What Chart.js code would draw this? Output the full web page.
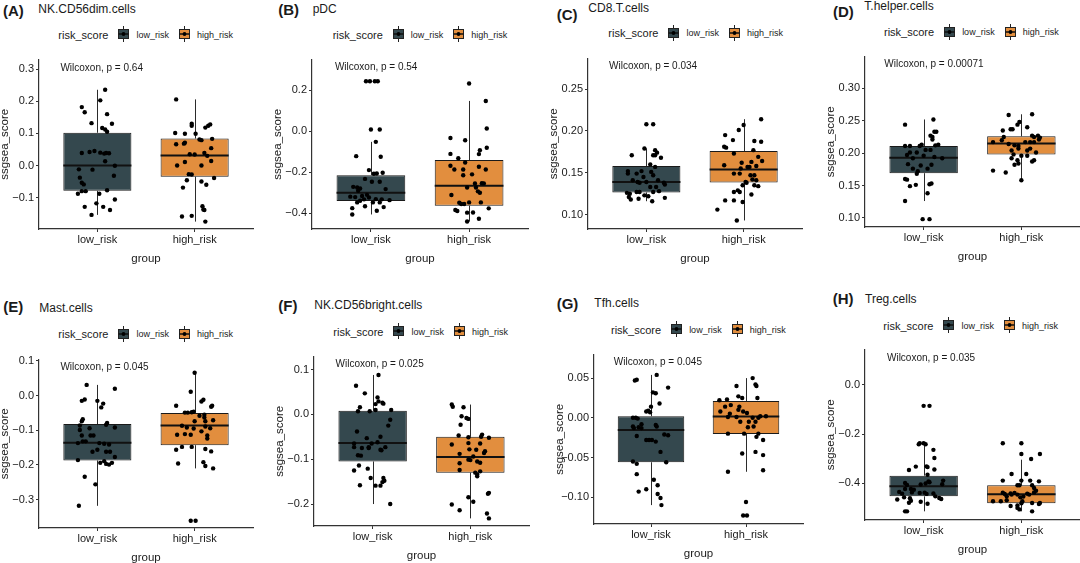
<!DOCTYPE html>
<html><head><meta charset="utf-8">
<script src="https://cdn.jsdelivr.net/npm/chart.js@4/dist/chart.umd.min.js"></script>
<style>
html,body{margin:0;padding:0;}
body{width:1080px;height:563px;overflow:hidden;background:#fff;position:relative;font-family:"Liberation Sans",Arial,sans-serif;color:#1a1a1a;}
.tag{position:absolute;font-weight:bold;font-size:15px;line-height:18px;transform:translateY(-50%);white-space:nowrap;}
.name{position:absolute;font-size:12px;line-height:14px;transform:translateY(-50%);white-space:nowrap;}
.leg{position:absolute;display:flex;align-items:center;transform:translateY(-50%);white-space:nowrap;height:17px;}
.leg .t{font-size:11px;margin-right:7px;}
.leg .k{font-size:9px;margin-left:4px;margin-right:7px;}
.leg svg{display:block;}
canvas{position:absolute;}
</style></head>
<body>
<script>
// ---------- DATA ----------
const categories = ['low_risk', 'high_risk'];
const panelTags = ['(A)', '(B)', '(C)', '(D)', '(E)', '(F)', '(G)', '(H)'];
const cellTypes = ['NK.CD56dim.cells', 'pDC', 'CD8.T.cells', 'T.helper.cells', 'Mast.cells', 'NK.CD56bright.cells', 'Tfh.cells', 'Treg.cells'];
const pValues = ['0.64', '0.54', '0.034', '0.00071', '0.045', '0.025', '0.045', '0.035'];

// box stats: [lower whisker, Q1, median, Q3, upper whisker]
const boxA_low = [-0.154, -0.079, 0.000, 0.102, 0.236];
const boxA_high = [-0.175, -0.035, 0.031, 0.084, 0.206];
const boxB_low = [-0.407, -0.341, -0.301, -0.215, -0.052];
const boxB_high = [-0.441, -0.364, -0.267, -0.141, 0.148];
const boxC_low = [0.116, 0.1265, 0.139, 0.158, 0.179];
const boxC_high = [0.093, 0.1385, 0.154, 0.176, 0.214];
const boxD_low = [0.126, 0.169, 0.193, 0.211, 0.252];
const boxD_high = [0.158, 0.198, 0.215, 0.226, 0.260];
const boxE_low = [-0.318, -0.187, -0.136, -0.082, 0.031];
const boxE_high = [-0.210, -0.143, -0.086, -0.050, 0.066];
const boxF_low = [-0.200, -0.105, -0.064, 0.008, 0.088];
const boxF_high = [-0.232, -0.130, -0.095, -0.050, 0.022];
const boxG_low = [-0.110, -0.056, -0.0154, 0.002, 0.054];
const boxG_high = [-0.068, -0.0204, 0.0017, 0.0212, 0.050];
const boxH_low = [-0.514, -0.453, -0.412, -0.369, -0.241];
const boxH_high = [-0.514, -0.481, -0.445, -0.408, -0.304];

// points: [jitter offset (category units), ssgsea_score]
const ptsA_low = [[0.08,0.236],[0.03,0.203],[-0.16,0.182],[-0.13,0.166],[0.10,0.160],[-0.06,0.132],[0.15,0.130],[0.05,0.117],[0.08,0.112],[0.10,0.105],[-0.16,0.039],[-0.08,0.042],[-0.03,0.045],[0.03,0.040],[0.07,0.037],[0.09,0.039],[0.12,0.038],[0.08,0.013],[-0.05,-0.013],[0.18,-0.001],[0.17,-0.032],[-0.19,-0.012],[-0.18,-0.038],[-0.16,-0.054],[-0.14,-0.059],[-0.16,-0.080],[-0.12,-0.080],[-0.20,-0.088],[0.02,-0.088],[0.10,-0.077],[0.18,-0.106],[-0.13,-0.129],[-0.01,-0.118],[0.06,-0.129],[0.13,-0.139],[-0.06,-0.154]];
const ptsA_high = [[-0.19,0.206],[-0.03,0.130],[-0.03,0.124],[0.16,0.128],[0.14,0.124],[0.11,0.118],[-0.20,0.101],[-0.10,0.099],[0.01,0.099],[0.05,0.081],[0.07,0.079],[0.18,0.083],[-0.19,0.066],[-0.10,0.071],[-0.11,0.068],[0.17,0.054],[-0.05,0.035],[0.00,0.034],[0.10,0.039],[0.13,0.030],[0.17,0.014],[-0.10,0.011],[-0.18,0.000],[0.07,0.000],[0.20,-0.039],[-0.06,-0.027],[-0.03,-0.028],[-0.08,-0.046],[0.12,-0.060],[0.07,-0.050],[-0.12,-0.069],[0.08,-0.127],[0.09,-0.137],[0.10,-0.139],[-0.13,-0.159],[-0.03,-0.157],[0.11,-0.175]];
const ptsB_low = [[-0.05,0.244],[-0.01,0.244],[0.04,0.244],[0.07,0.244],[0.00,0.008],[0.09,0.008],[0.05,-0.052],[-0.15,-0.122],[0.10,-0.125],[-0.02,-0.190],[0.03,-0.208],[0.06,-0.207],[0.12,-0.203],[0.09,-0.247],[0.01,-0.247],[-0.06,-0.233],[0.15,-0.283],[-0.18,-0.272],[-0.14,-0.275],[-0.11,-0.280],[-0.13,-0.291],[-0.21,-0.320],[-0.16,-0.322],[-0.09,-0.317],[-0.04,-0.311],[-0.11,-0.340],[-0.07,-0.333],[-0.02,-0.324],[0.05,-0.332],[0.11,-0.333],[0.19,-0.337],[-0.14,-0.348],[0.02,-0.348],[0.09,-0.348],[-0.19,-0.376],[-0.06,-0.367],[0.13,-0.371],[0.06,-0.389],[-0.19,-0.407]];
const ptsB_high = [[0.00,0.233],[0.17,0.148],[0.18,0.013],[-0.19,-0.033],[-0.04,-0.044],[0.18,-0.081],[0.11,-0.093],[0.10,-0.112],[-0.19,-0.111],[-0.11,-0.132],[-0.04,-0.153],[-0.19,-0.169],[0.10,-0.174],[-0.15,-0.187],[-0.06,-0.187],[0.17,-0.187],[0.03,-0.211],[-0.06,-0.215],[0.06,-0.255],[0.13,-0.254],[-0.02,-0.275],[0.07,-0.275],[0.15,-0.255],[0.09,-0.294],[0.11,-0.301],[-0.18,-0.312],[-0.10,-0.350],[-0.08,-0.356],[-0.05,-0.356],[0.00,-0.348],[0.12,-0.348],[-0.14,-0.385],[-0.12,-0.390],[-0.02,-0.398],[0.04,-0.397],[0.20,-0.377],[0.10,-0.428],[-0.02,-0.441]];
const ptsC_low = [[0.00,0.208],[0.07,0.208],[-0.15,0.171],[-0.02,0.179],[0.09,0.177],[0.11,0.174],[0.07,0.171],[0.09,0.171],[0.15,0.168],[0.04,0.160],[0.09,0.157],[-0.19,0.152],[-0.05,0.152],[-0.19,0.149],[-0.10,0.149],[0.05,0.151],[0.07,0.147],[-0.14,0.141],[-0.09,0.139],[-0.03,0.145],[0.00,0.139],[-0.07,0.138],[0.12,0.141],[0.18,0.138],[0.19,0.136],[0.10,0.133],[0.04,0.133],[0.07,0.127],[0.13,0.128],[-0.20,0.126],[-0.17,0.125],[-0.10,0.127],[-0.07,0.127],[-0.02,0.123],[0.02,0.122],[-0.18,0.121],[-0.16,0.118],[-0.08,0.119],[0.19,0.120],[0.06,0.116]];
const ptsC_high = [[0.18,0.214],[0.00,0.207],[-0.05,0.201],[-0.19,0.195],[-0.11,0.189],[-0.20,0.181],[0.11,0.188],[0.18,0.187],[0.10,0.177],[-0.18,0.180],[-0.10,0.173],[-0.02,0.162],[0.08,0.163],[0.15,0.169],[0.19,0.164],[-0.20,0.159],[-0.03,0.155],[0.06,0.157],[0.04,0.157],[0.13,0.158],[-0.10,0.149],[-0.04,0.149],[0.07,0.147],[0.11,0.147],[0.09,0.142],[0.13,0.141],[0.02,0.139],[0.03,0.138],[0.15,0.134],[-0.01,0.135],[0.11,0.135],[-0.06,0.129],[-0.04,0.127],[0.08,0.124],[-0.10,0.127],[-0.19,0.117],[-0.10,0.117],[-0.01,0.115],[-0.27,0.106],[-0.07,0.093]];
const ptsD_low = [[0.10,0.252],[-0.19,0.244],[0.11,0.233],[0.13,0.233],[0.07,0.227],[0.09,0.225],[0.09,0.221],[-0.19,0.211],[-0.14,0.211],[-0.04,0.211],[-0.02,0.213],[0.12,0.212],[0.15,0.213],[-0.14,0.201],[0.02,0.205],[0.07,0.205],[-0.07,0.201],[-0.17,0.197],[0.00,0.196],[-0.11,0.192],[0.11,0.194],[0.19,0.192],[-0.16,0.183],[-0.03,0.181],[0.08,0.182],[-0.11,0.176],[-0.06,0.172],[0.04,0.176],[-0.07,0.168],[-0.19,0.160],[-0.17,0.159],[-0.14,0.149],[-0.08,0.151],[0.06,0.152],[0.08,0.153],[0.04,0.138],[-0.19,0.126],[-0.01,0.098],[0.06,0.098]];
const ptsD_high = [[-0.13,0.259],[0.11,0.260],[-0.02,0.248],[-0.04,0.244],[0.06,0.240],[-0.19,0.235],[-0.11,0.237],[-0.09,0.237],[-0.18,0.225],[-0.20,0.220],[0.11,0.227],[0.13,0.225],[0.17,0.227],[0.18,0.221],[0.19,0.224],[-0.29,0.217],[-0.13,0.214],[-0.07,0.212],[-0.03,0.211],[0.09,0.217],[0.13,0.217],[0.04,0.217],[-0.10,0.204],[-0.03,0.207],[0.09,0.207],[0.06,0.204],[-0.08,0.198],[0.00,0.196],[0.15,0.201],[0.06,0.196],[-0.10,0.192],[0.11,0.187],[0.13,0.189],[-0.04,0.189],[-0.03,0.184],[-0.07,0.182],[-0.29,0.173],[-0.16,0.170],[0.00,0.158]];
const ptsE_low = [[-0.11,0.031],[0.18,0.020],[-0.16,-0.015],[-0.13,-0.011],[0.00,-0.015],[0.06,-0.023],[0.04,-0.034],[-0.15,-0.068],[-0.16,-0.074],[-0.18,-0.086],[0.10,-0.079],[0.09,-0.084],[-0.18,-0.099],[-0.08,-0.094],[-0.07,-0.115],[-0.04,-0.115],[0.18,-0.092],[-0.16,-0.115],[-0.15,-0.132],[-0.12,-0.132],[-0.20,-0.137],[0.02,-0.137],[0.07,-0.139],[0.12,-0.141],[-0.05,-0.162],[0.00,-0.156],[0.09,-0.162],[0.13,-0.162],[0.18,-0.177],[-0.20,-0.186],[0.07,-0.189],[0.09,-0.197],[0.12,-0.199],[0.15,-0.194],[0.03,-0.194],[-0.13,-0.234],[-0.02,-0.256],[-0.19,-0.318]];
const ptsE_high = [[0.00,0.066],[-0.04,0.011],[-0.19,-0.029],[0.07,-0.017],[0.09,-0.012],[0.17,-0.032],[0.18,-0.029],[-0.10,-0.049],[-0.07,-0.049],[-0.03,-0.048],[-0.01,-0.046],[0.05,-0.058],[0.10,-0.055],[-0.13,-0.087],[-0.08,-0.092],[0.00,-0.074],[0.10,-0.063],[0.11,-0.089],[0.19,-0.071],[0.16,-0.094],[0.11,-0.074],[-0.18,-0.113],[-0.10,-0.111],[-0.04,-0.113],[0.07,-0.103],[0.13,-0.115],[-0.01,-0.095],[0.13,-0.124],[-0.13,-0.148],[-0.03,-0.148],[-0.19,-0.156],[0.11,-0.154],[0.17,-0.161],[-0.17,-0.196],[0.09,-0.192],[0.11,-0.203],[0.19,-0.210],[-0.04,-0.361],[0.01,-0.361]];
const ptsF_low = [[0.06,0.088],[-0.17,0.064],[-0.08,0.047],[0.05,0.038],[0.06,0.029],[0.03,0.023],[0.10,0.026],[0.11,0.024],[-0.13,0.016],[-0.15,0.007],[-0.03,0.007],[0.03,0.010],[0.19,0.010],[0.18,-0.012],[0.16,-0.025],[-0.16,-0.038],[-0.06,-0.053],[0.08,-0.050],[-0.19,-0.065],[-0.19,-0.073],[-0.01,-0.065],[0.05,-0.062],[0.13,-0.073],[0.08,-0.079],[0.09,-0.080],[-0.11,-0.075],[-0.04,-0.075],[-0.15,-0.091],[-0.12,-0.092],[-0.04,-0.073],[-0.14,-0.114],[-0.19,-0.125],[-0.05,-0.121],[-0.02,-0.142],[0.11,-0.142],[0.12,-0.148],[0.10,-0.151],[-0.13,-0.158],[0.03,-0.159],[0.08,-0.159],[0.18,-0.200]];
const ptsF_high = [[-0.19,0.022],[-0.18,0.017],[-0.07,0.016],[-0.09,-0.004],[-0.04,-0.008],[-0.02,-0.010],[-0.10,-0.023],[-0.12,-0.047],[-0.02,-0.051],[0.12,-0.045],[0.11,-0.050],[0.19,-0.052],[-0.19,-0.067],[-0.02,-0.064],[0.10,-0.065],[0.15,-0.082],[0.14,-0.086],[-0.01,-0.078],[0.06,-0.079],[-0.11,-0.088],[0.03,-0.094],[-0.02,-0.101],[0.00,-0.102],[-0.11,-0.109],[0.07,-0.105],[0.10,-0.108],[-0.11,-0.124],[0.05,-0.130],[0.07,-0.134],[0.07,-0.138],[0.10,-0.127],[-0.02,-0.185],[0.19,-0.175],[0.18,-0.177],[0.03,-0.195],[-0.19,-0.201],[-0.11,-0.214],[0.17,-0.221],[0.19,-0.232]];
const ptsG_low = [[0.06,0.054],[-0.17,0.047],[-0.15,0.048],[0.18,0.038],[0.02,0.032],[0.05,0.031],[0.09,0.018],[0.00,0.014],[-0.05,0.008],[-0.03,0.009],[-0.01,0.007],[-0.19,0.000],[-0.16,0.000],[-0.14,-0.001],[-0.10,-0.008],[0.05,-0.009],[0.06,-0.011],[-0.19,-0.011],[-0.13,-0.012],[-0.10,-0.013],[-0.18,-0.013],[0.14,-0.021],[0.18,-0.022],[-0.15,-0.023],[-0.05,-0.028],[-0.02,-0.028],[0.01,-0.028],[0.05,-0.030],[0.10,-0.043],[-0.19,-0.055],[-0.15,-0.058],[0.16,-0.056],[-0.15,-0.071],[0.03,-0.078],[0.07,-0.085],[-0.05,-0.090],[-0.13,-0.093],[0.07,-0.096],[0.10,-0.101],[0.11,-0.110]];
const ptsG_high = [[0.07,0.050],[-0.10,0.040],[0.10,0.042],[0.11,0.040],[-0.08,0.027],[-0.04,0.025],[0.12,0.025],[-0.28,0.022],[-0.20,0.023],[-0.16,0.016],[-0.07,0.014],[-0.22,0.014],[-0.08,0.010],[-0.03,0.008],[0.01,0.006],[-0.27,0.008],[-0.17,0.005],[-0.19,0.001],[-0.10,0.001],[0.07,0.000],[0.13,0.000],[0.21,0.002],[0.15,0.002],[-0.06,-0.005],[0.03,-0.005],[0.10,-0.005],[0.02,-0.012],[0.08,-0.011],[-0.19,-0.020],[-0.02,-0.020],[0.13,-0.020],[0.11,-0.024],[0.18,-0.028],[0.10,-0.043],[-0.04,-0.045],[0.18,-0.047],[0.18,-0.066],[-0.19,-0.068],[0.00,-0.106],[-0.03,-0.123],[0.01,-0.123]];
const ptsH_low = [[0.00,-0.085],[0.06,-0.085],[-0.05,-0.241],[-0.04,-0.237],[0.00,-0.237],[0.02,-0.241],[0.10,-0.264],[0.11,-0.297],[0.03,-0.331],[0.04,-0.334],[-0.08,-0.332],[-0.15,-0.346],[0.11,-0.344],[0.04,-0.365],[0.05,-0.392],[-0.19,-0.399],[-0.17,-0.407],[-0.03,-0.405],[0.02,-0.401],[0.06,-0.396],[0.20,-0.389],[0.19,-0.404],[-0.19,-0.423],[-0.13,-0.423],[-0.10,-0.426],[-0.25,-0.435],[-0.22,-0.442],[-0.12,-0.437],[-0.04,-0.439],[0.01,-0.438],[0.03,-0.443],[0.10,-0.441],[0.18,-0.464],[0.16,-0.460],[-0.14,-0.461],[-0.13,-0.471],[-0.20,-0.457],[-0.27,-0.466],[-0.15,-0.479],[-0.03,-0.475],[0.04,-0.483],[-0.19,-0.514],[-0.17,-0.514],[0.12,-0.453]];
const ptsH_high = [[-0.19,-0.237],[0.00,-0.237],[0.00,-0.281],[0.19,-0.281],[0.10,-0.301],[-0.10,-0.362],[0.05,-0.362],[-0.19,-0.389],[0.00,-0.389],[0.09,-0.389],[0.18,-0.392],[-0.04,-0.408],[-0.02,-0.408],[0.11,-0.408],[0.13,-0.419],[-0.19,-0.438],[-0.17,-0.443],[-0.11,-0.441],[-0.07,-0.439],[-0.04,-0.446],[0.06,-0.442],[0.08,-0.446],[0.13,-0.437],[0.15,-0.430],[-0.15,-0.453],[-0.10,-0.446],[-0.01,-0.457],[0.02,-0.454],[-0.15,-0.469],[0.01,-0.473],[0.11,-0.480],[0.18,-0.484],[0.19,-0.480],[-0.29,-0.473],[-0.21,-0.473],[-0.11,-0.492],[-0.04,-0.500],[-0.02,-0.506],[0.11,-0.514],[-0.04,-0.490],[0.00,-0.481]];

// y axis limits and tick labels
const yLimA = [-0.198, 0.330], ticksA = [-0.1, 0, 0.1, 0.2, 0.3], tickLabelsA = ['\u22120.1', '0.0', '0.1', '0.2', '0.3'];
const yLimB = [-0.478, 0.350], ticksB = [-0.4, -0.2, 0, 0.2], tickLabelsB = ['\u22120.4', '\u22120.2', '0.0', '0.2'];
const yLimC = [0.0828, 0.2864], ticksC = [0.10, 0.15, 0.20, 0.25], tickLabelsC = ['0.10', '0.15', '0.20', '0.25'];
const yLimD = [0.0859, 0.3491], ticksD = [0.10, 0.15, 0.20, 0.25, 0.30], tickLabelsD = ['0.10', '0.15', '0.20', '0.25', '0.30'];
const yLimE = [-0.382, 0.104], ticksE = [-0.3, -0.2, -0.1, 0, 0.1], tickLabelsE = ['\u22120.3', '\u22120.2', '\u22120.1', '0.0', '0.1'];
const yLimF = [-0.249, 0.129], ticksF = [-0.2, -0.1, 0, 0.1], tickLabelsF = ['\u22120.2', '\u22120.1', '0.0', '0.1'];
const yLimG = [-0.1338, 0.0796], ticksG = [-0.10, -0.05, 0, 0.05], tickLabelsG = ['\u22120.10', '\u22120.05', '0.00', '0.05'];
const yLimH = [-0.5492, 0.1437], ticksH = [-0.4, -0.2, 0], tickLabelsH = ['\u22120.4', '\u22120.2', '0.0'];

// Wilcoxon label anchor (x in category units, y in data units)
const labelAtA = [0.62, 0.303], labelAtB = [0.633, 0.314], labelAtC = [0.616, 0.277], labelAtD = [0.598, 0.338];
const labelAtE = [0.62, 0.081], labelAtF = [0.621, 0.113], labelAtG = [0.609, 0.070], labelAtH = [0.625, 0.108];

// ---------- STYLE / LAYOUT ----------
const LOW_COLOR = '#34484e', HIGH_COLOR = '#e28e3e';
const FONT = "'Liberation Sans', Arial, sans-serif";
Chart.defaults.font.family = FONT;
Chart.defaults.color = '#1a1a1a';

const panels = [
  {low: ptsA_low, high: ptsA_high, bl: boxA_low, bh: boxA_high, lim: yLimA, ticks: ticksA, tl: tickLabelsA, lab: labelAtA, L: 38.6, T: 59, R: 252.7, B: 229, tag: [3, 10.7], nm: [38.3, 9], lg: [58.3, 34.3]},
  {low: ptsB_low, high: ptsB_high, bl: boxB_low, bh: boxB_high, lim: yLimB, ticks: ticksB, tl: tickLabelsB, lab: labelAtB, L: 312.2, T: 59, R: 527.8, B: 229, tag: [278.3, 10], nm: [312.7, 8.7], lg: [332.7, 34]},
  {low: ptsC_low, high: ptsC_high, bl: boxC_low, bh: boxC_high, lim: yLimC, ticks: ticksC, tl: tickLabelsC, lab: labelAtC, L: 588.3, T: 58, R: 802.4, B: 229, tag: [556.7, 15], nm: [588.3, 7.5], lg: [608.3, 32.7]},
  {low: ptsD_low, high: ptsD_high, bl: boxD_low, bh: boxD_high, lim: yLimD, ticks: ticksD, tl: tickLabelsD, lab: labelAtD, L: 864.7, T: 56, R: 1079.6, B: 226.7, tag: [833, 11.7], nm: [864.3, 6], lg: [884, 31.7]},
  {low: ptsE_low, high: ptsE_high, bl: boxE_low, bh: boxE_high, lim: yLimE, ticks: ticksE, tl: tickLabelsE, lab: labelAtE, L: 38.6, T: 358.7, R: 252.7, B: 528.3, tag: [3.3, 307], nm: [39.3, 307.7], lg: [58.3, 333.7]},
  {low: ptsF_low, high: ptsF_high, bl: boxF_low, bh: boxF_high, lim: yLimF, ticks: ticksF, tl: tickLabelsF, lab: labelAtF, L: 314.1, T: 356, R: 528.8, B: 526, tag: [278.3, 306], nm: [314.3, 305], lg: [333.3, 331]},
  {low: ptsG_low, high: ptsG_high, bl: boxG_low, bh: boxG_high, lim: yLimG, ticks: ticksG, tl: tickLabelsG, lab: labelAtG, L: 594.2, T: 353.7, R: 802.6, B: 524.3, tag: [556.7, 304.3], nm: [594.3, 303.3], lg: [611, 329.3]},
  {low: ptsH_low, high: ptsH_high, bl: boxH_low, bh: boxH_high, lim: yLimH, ticks: ticksH, tl: tickLabelsH, lab: labelAtH, L: 864.7, T: 349.3, R: 1079.6, B: 519.7, tag: [832.7, 299.3], nm: [865, 298.7], lg: [883.3, 325.3]}
];

// whiskers + medians drawn right after the box (bar) dataset, before points
const boxPartsPlugin = {
  id: 'boxParts',
  afterDatasetDraw(chart, args, opts) {
    if (args.index !== 2) return;
    const {ctx} = chart;
    const y = chart.scales.y;
    const meta = chart.getDatasetMeta(2);
    opts.stats.forEach((s, i) => {
      const bar = meta.data[i];
      const x = Math.round(bar.x) + 0.5;
      ctx.save();
      ctx.strokeStyle = '#2b2b2b';
      ctx.lineWidth = 1;
      ctx.beginPath();
      ctx.moveTo(x, y.getPixelForValue(s[3])); ctx.lineTo(x, y.getPixelForValue(s[4]));
      ctx.moveTo(x, y.getPixelForValue(s[1])); ctx.lineTo(x, y.getPixelForValue(s[0]));
      ctx.stroke();
      ctx.strokeStyle = '#111';
      ctx.lineWidth = 2;
      ctx.beginPath();
      const ym = y.getPixelForValue(s[2]);
      ctx.moveTo(bar.x - bar.width / 2, ym); ctx.lineTo(bar.x + bar.width / 2, ym);
      ctx.stroke();
      ctx.restore();
    });
  }
};
const pLabelPlugin = {
  id: 'pLabel',
  afterDatasetsDraw(chart, args, opts) {
    const {ctx} = chart;
    ctx.save();
    ctx.font = '10px ' + FONT;
    ctx.fillStyle = '#1a1a1a';
    ctx.textAlign = 'left';
    ctx.textBaseline = 'middle';
    ctx.fillText(opts.text, chart.scales.x.getPixelForValue(opts.at[0]), chart.scales.y.getPixelForValue(opts.at[1]));
    ctx.restore();
  }
};

function legendKey(color) {
  return `<svg width="17" height="17" viewBox="0 0 17 17"><line x1="8.5" y1="0.5" x2="8.5" y2="16.5" stroke="#222" stroke-width="1"/><rect x="3.5" y="4" width="10" height="9" fill="${color}" stroke="#222" stroke-width="1"/><line x1="3.5" y1="8.5" x2="13.5" y2="8.5" stroke="#111" stroke-width="1.3"/><circle cx="8.5" cy="8.5" r="1.9" fill="#000"/></svg>`;
}

function addDiv(cls, x, y, html) {
  const d = document.createElement('div');
  d.className = cls;
  d.style.left = x + 'px';
  d.style.top = y + 'px';
  d.innerHTML = html;
  document.body.appendChild(d);
}

panels.forEach((p, i) => {
  addDiv('tag', p.tag[0], p.tag[1], panelTags[i]);
  addDiv('name', p.nm[0], p.nm[1], cellTypes[i]);
  addDiv('leg', p.lg[0], p.lg[1],
    `<span class="t">risk_score</span>${legendKey(LOW_COLOR)}<span class="k">${categories[0]}</span>${legendKey(HIGH_COLOR)}<span class="k">${categories[1]}</span>`);

  const YW = 44, XH = 40, PT = 8, PR = 6;
  const L = Math.round(p.L), T = Math.round(p.T), R = Math.round(p.R), B = Math.round(p.B);
  const w = R - L + YW + PR, h = B - T + PT + XH;
  const cv = document.createElement('canvas');
  cv.width = w; cv.height = h;
  cv.style.left = (L - YW) + 'px';
  cv.style.top = (T - PT) + 'px';
  cv.style.width = w + 'px';
  cv.style.height = h + 'px';
  document.body.appendChild(cv);

  const toPts = (arr, c) => arr.map(d => ({x: c + d[0], y: d[1]}));
  new Chart(cv, {
    type: 'scatter',
    data: {
      datasets: [
        {label: categories[0], data: toPts(p.low, 1), pointRadius: 2.2, pointBackgroundColor: '#000', pointBorderWidth: 0, pointHoverRadius: 2.2},
        {label: categories[1], data: toPts(p.high, 2), pointRadius: 2.2, pointBackgroundColor: '#000', pointBorderWidth: 0, pointHoverRadius: 2.2},
        {type: 'bar', label: 'box', data: [{x: 1, y: [p.bl[1], p.bl[3]]}, {x: 2, y: [p.bh[1], p.bh[3]]}],
         backgroundColor: [LOW_COLOR, HIGH_COLOR], borderColor: '#1a1a1a', borderWidth: 1, borderSkipped: false,
         barPercentage: 0.7, categoryPercentage: 1}
      ]
    },
    options: {
      responsive: false, animation: false, devicePixelRatio: 1,
      layout: {padding: {left: 0, top: PT, right: PR, bottom: 0}},
      plugins: {
        legend: {display: false}, tooltip: {enabled: false},
        boxParts: {stats: [p.bl, p.bh]},
        pLabel: {text: 'Wilcoxon, p = ' + pValues[i], at: p.lab}
      },
      scales: {
        x: {
          type: 'linear', min: 0.4, max: 2.6, offset: false,
          afterBuildTicks: s => { s.ticks = [{value: 1}, {value: 2}]; },
          afterFit: s => { s.height = XH; },
          ticks: {callback: (v, idx) => categories[idx], font: {size: 11}, color: '#1a1a1a', padding: 1, autoSkip: false, maxRotation: 0},
          grid: {display: true, offset: false, drawOnChartArea: false, drawTicks: true, tickLength: 3, color: '#333', lineWidth: 1},
          border: {display: true, color: '#333', width: 1.2},
          title: {display: true, text: 'group', font: {size: 11.5}, color: '#1a1a1a', padding: {top: 0, bottom: 3.4}}
        },
        y: {
          type: 'linear', min: p.lim[0], max: p.lim[1], offset: false,
          afterBuildTicks: s => { s.ticks = p.ticks.map(v => ({value: v})); },
          afterFit: s => { s.width = YW; },
          ticks: {callback: (v, idx) => p.tl[idx], font: {size: 11}, color: '#1a1a1a', padding: 2, autoSkip: false},
          grid: {display: true, drawOnChartArea: false, drawTicks: true, tickLength: 3, color: '#333', lineWidth: 1},
          border: {display: true, color: '#333', width: 1.2},
          title: {display: true, text: 'ssgsea_score', font: {size: 11.5}, color: '#1a1a1a', padding: {top: 3, bottom: 0}}
        }
      }
    },
    plugins: [boxPartsPlugin, pLabelPlugin]
  });
});
</script>
</body></html>
